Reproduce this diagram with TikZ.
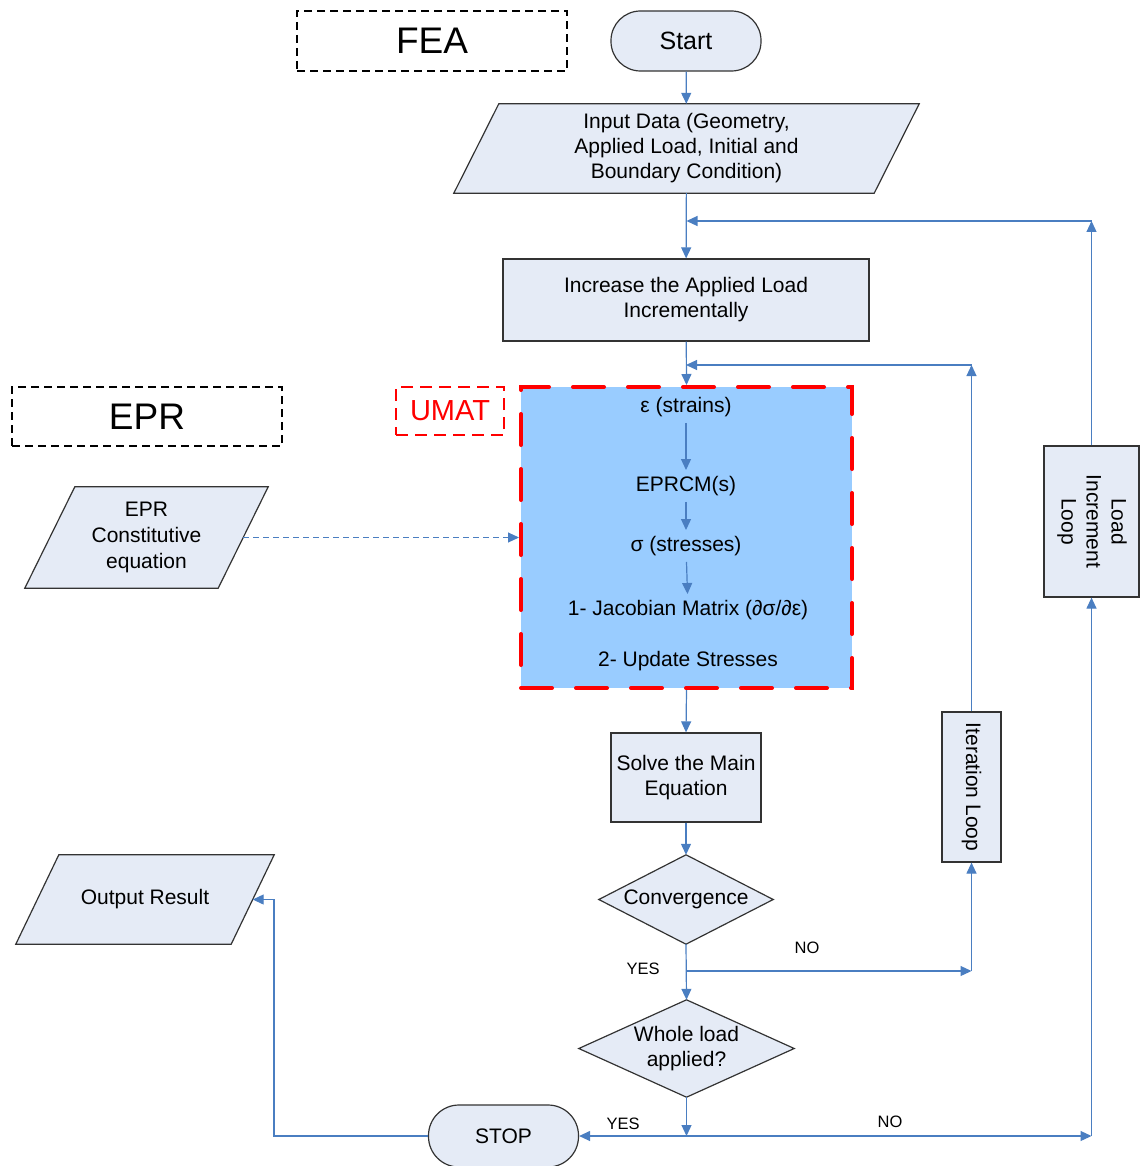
\documentclass[tikz,border=0pt]{standalone}
\usepackage{fontspec}
\setmainfont{Liberation Sans}
\usetikzlibrary{arrows.meta,calc,backgrounds}

\definecolor{boxfill}{HTML}{E5EBF6}
\definecolor{flow}{HTML}{4A7EC1}
\definecolor{umatfill}{HTML}{99CCFF}
\definecolor{edge}{HTML}{333333}

% slanted input/output outline drawn around a text node
\newcommand\slantoutline[2]{%
  \path[outline] ($(#1.north west)+(#2,0)$) -- ($(#1.north east)+(#2,0)$)
    -- ($(#1.south east)-(#2,0)$) -- ($(#1.south west)-(#2,0)$) -- cycle;}
% decision outline drawn around a text node
\newcommand\decisionoutline[1]{%
  \path[outline] (#1.north) -- (#1.east) -- (#1.south) -- (#1.west) -- cycle;}

\begin{document}
\begin{tikzpicture}[x=1pt,y=-1pt,
  txt/.style={font=\fontsize{21}{25}\selectfont, align=center, inner sep=0pt},
  proc/.style={txt, draw=edge, line width=1.2pt, fill=boxfill},
  term/.style={proc, rounded corners=29.5pt, minimum width=150pt, minimum height=60pt},
  outline/.style={draw=edge, line width=1.2pt, fill=boxfill},
  arr/.style={draw=flow, line width=1.2pt, -{Triangle[length=11pt,width=10pt]}},
  note/.style={draw=black, line width=1.4pt, dash pattern=on 8pt off 5pt,
    minimum width=270pt, minimum height=60pt, inner sep=0pt,
    font=\fontsize{37}{40}\selectfont},
  inner/.style={txt, inner ysep=6pt},
  lbl/.style={font=\fontsize{16.5}{19}\selectfont, inner sep=0pt}
]
\useasboundingbox (0,0) rectangle (1141,1166);

% group labels
\node[note] (fea) at (432,41) {FEA};
\node[note, minimum height=59pt] (eprnote) at (147,416.5) {EPR};

% main column
\node[term, font=\fontsize{25}{28}\selectfont] (start) at (686,41) {Start};
\node[txt, minimum width=420pt, minimum height=89pt] (input) at (686.5,148.5)
  {Input Data (Geometry,\\Applied Load, Initial and\\Boundary Condition)};
\node[proc, minimum width=366pt, minimum height=82pt] (inc) at (686,300)
  {Increase the Applied Load\\Incrementally};

% UMAT subroutine
\node[draw=red, line width=4pt, line cap=round, dash pattern=on 31pt off 24pt,
  fill=umatfill, minimum width=331pt, minimum height=301pt] (umat) at (686.5,537.5) {};
\node[draw=red, text=red, line width=2.2pt, dash pattern=on 12pt off 7pt,
  minimum width=108pt, minimum height=48pt, inner sep=0pt,
  font=\fontsize{29}{32}\selectfont] (umatlbl) at (450,411) {UMAT};
\node[inner] (eps) at (686,407) {ε (strains)};
\node[inner] (eprcm) at (686,486) {EPRCM(s)};
\node[inner] (sig) at (686,546) {σ (stresses)};
\node[inner] (jac) at (688,610) {1- Jacobian Matrix (∂σ/∂ε)};
\node[inner] (upd) at (688,661) {2- Update Stresses};

\node[proc, minimum width=150pt, minimum height=89pt] (solve) at (686,777.5)
  {Solve the Main\\Equation};
\node[txt, minimum width=174pt, minimum height=89pt] (conv) at (686,899.5) {Convergence};
\node[txt, minimum width=215pt, minimum height=97pt] (whole) at (686.5,1048.5)
  {Whole load\\applied?};
\node[term, minimum height=62pt, rounded corners=30.5pt] (stop) at (503.5,1136) {STOP};

% left column
\node[txt, minimum width=193pt, minimum height=101pt, font=\fontsize{21}{26}\selectfont]
  (eprq) at (146.5,537.5) {EPR\\Constitutive\\equation};
\node[txt, minimum width=215pt, minimum height=89pt] (out) at (145,899.5) {Output Result};

% loop boxes
\node[proc, minimum width=59pt, minimum height=150pt] (iter) at (971.5,787)
  {\rotatebox{-90}{Iteration Loop}};
\node[proc, minimum width=95pt, minimum height=151pt] (load) at (1091.5,521.5)
  {\rotatebox{-90}{\begin{tabular}{@{}c@{}}Load\\Increment\\Loop\end{tabular}}};

% outlines behind the text nodes
\begin{scope}[on background layer]
  \slantoutline{input}{22.5}
  \slantoutline{eprq}{25}
  \slantoutline{out}{21.5}
  \decisionoutline{conv}
  \decisionoutline{whole}
\end{scope}

% flow inside UMAT
\draw[arr] (eps) -- (eprcm);
\draw[arr] (eprcm) -- (sig);
\draw[arr] (sig) -- (jac);

% main flow
\draw[arr] (start) -- (input);
\draw[arr] (input) -- (inc);
\draw[arr] (inc) -- (umat.north);
\draw[arr] (umat.south) -- (solve.north);
\draw[arr] (solve) -- (conv.north);
\draw[arr] (conv.south) -- (whole.north);
\draw[arr, dash pattern=on 6pt off 4pt, line width=1pt] (eprq.east) -- (umat.west);

% iteration loop
\coordinate (cj) at (686,971);
\coordinate (cr) at (iter.south |- cj);
\coordinate (it) at (iter.north |- 0,365);
\draw[arr] (cj) -- (cr);
\draw[arr] (cr) -- (iter.south);
\draw[arr] (iter.north) -- (it);
\draw[arr] (it) -- (inc.south |- it);

% load increment loop
\coordinate (wj) at (whole.south |- stop);
\coordinate (wr) at (load.south |- wj);
\coordinate (lt) at (load.north |- 0,221);
\draw[arr] (whole.south) -- (wj);
\draw[arr] (wj) -- (stop.east);
\draw[arr] (wj) -- (wr);
\draw[arr] (wr) -- (load.south);
\draw[arr] (load.north) -- (lt);
\draw[arr] (lt) -- (input.south |- lt);

% result output
\coordinate (sl) at (274,1136);
\draw[arr] (stop.west) -- (sl) |- (out.east);

% branch labels
\node[lbl] (noA) at (807,948) {NO};
\node[lbl] (yesA) at (643,969) {YES};
\node[lbl] (yesB) at (623,1124) {YES};
\node[lbl] (noB) at (890,1122) {NO};
\end{tikzpicture}
\end{document}
